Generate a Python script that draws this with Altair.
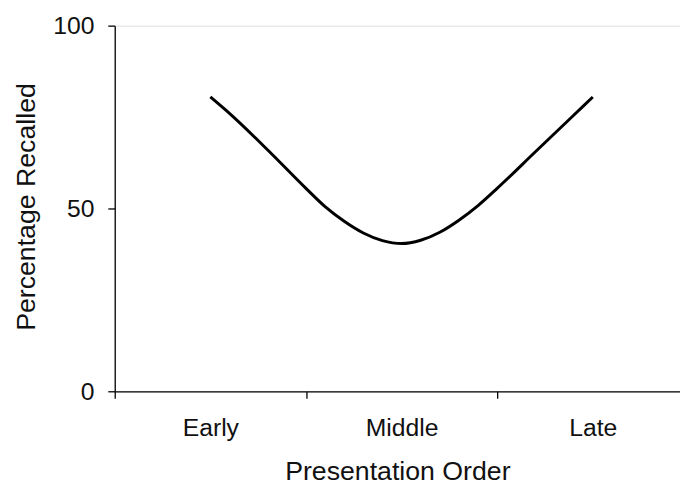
import json
import altair as alt
import pandas as pd

# Categories along the x axis (one band each)
categories = ["Early", "Middle", "Late"]

# Serial-position curve (position in band units, % recalled)
positions = [0.50, 0.60, 0.80, 1.00, 1.10, 1.20, 1.30, 1.40, 1.50, 1.60, 1.70, 1.80, 1.90, 2.00, 2.20, 2.40, 2.50]
recalled = [80.5, 76.0, 66.0, 55.5, 50.5, 46.5, 43.3, 41.2, 40.4, 41.3, 43.5, 46.8, 50.8, 55.5, 65.5, 75.5, 80.5]

y_ticks = [0, 50, 100]
x_ticks = [0, 1, 2]

df = pd.DataFrame({"pos": positions, "pct": recalled})

FONT = "Liberation Sans"
PLOT_W = 572
PLOT_H = 370
BAND = 193.5

label_expr = json.dumps(categories) + "[datum.value]"

chart = (
    alt.Chart(df)
    .mark_line(color="black", strokeWidth=3, interpolate="monotone")
    .encode(
        x=alt.X(
            "pos:Q",
            scale=alt.Scale(domain=[0, PLOT_W / BAND], nice=False, zero=False),
            axis=alt.Axis(
                values=x_ticks,
                labelExpr=label_expr,
                labelOffset=BAND / 2,
                labelAlign="center",
                labelBaseline="alphabetic",
                labelPadding=38,
                labelFlush=False,
                labelOverlap=False,
                labelBound=False,
                labelFont=FONT,
                labelFontSize=25,
                labelColor="#111",
                tickSize=7,
                tickColor="black",
                tickWidth=1.3,
                domainColor="black",
                domainWidth=1.3,
                grid=False,
                title="Presentation Order",
                titleFont=FONT,
                titleFontSize=27,
                titleFontWeight="normal",
                titleColor="#111",
                titleBaseline="alphabetic",
                titleAlign="center",
                titleX=286,
                titleY=89,
            ),
        ),
        y=alt.Y(
            "pct:Q",
            scale=alt.Scale(domain=[0, 100], nice=False),
            axis=alt.Axis(
                values=y_ticks,
                labelFont=FONT,
                labelFontSize=25,
                labelColor="#111",
                labelPadding=14,
                labelBaseline="middle",
                tickSize=7,
                tickColor="black",
                tickWidth=1.3,
                domainColor="black",
                domainWidth=1.3,
                grid=False,
                title="Percentage Recalled",
                titleFont=FONT,
                titleFontSize=27,
                titleFontWeight="normal",
                titleColor="#111",
                titleAngle=-90,
                titleBaseline="alphabetic",
                titleAlign="center",
                titleX=-81,
                titleY=183,
            ),
        ),
    )
    .properties(
        width=PLOT_W,
        height=PLOT_H,
        autosize=alt.AutoSizeParams(type="none"),
        padding={"left": 108, "top": 15, "right": 0, "bottom": 96},
    )
    .configure_view(stroke=None)
    .configure(background="white")
)

chart.save("out.html", embed_options={"renderer": "svg", "actions": False})
